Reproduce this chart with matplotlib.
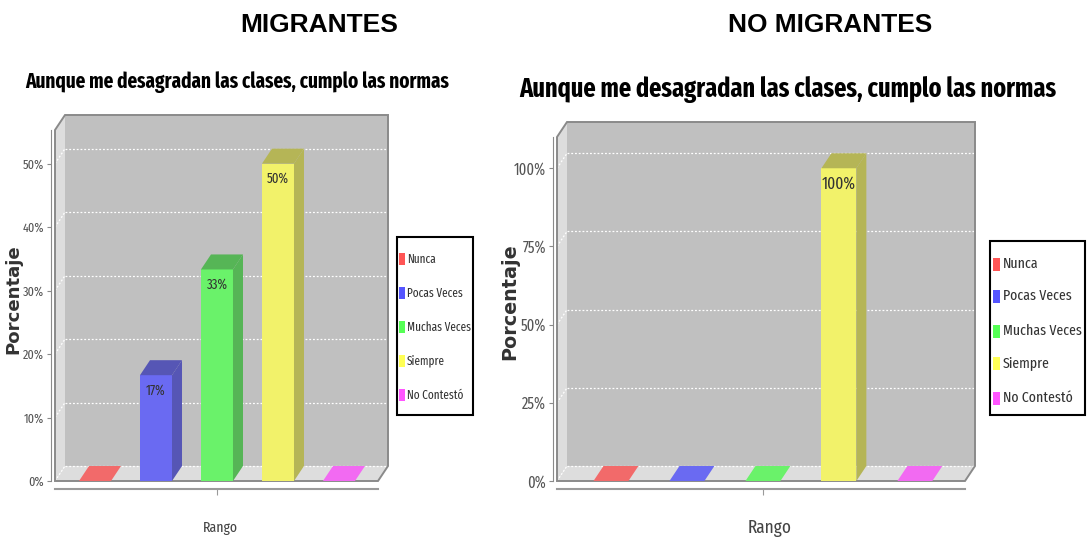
import matplotlib
matplotlib.use('Agg')
import matplotlib.pyplot as plt
from matplotlib.patches import Polygon, Rectangle

W, H = 1090, 542
NARROW = ['Fira Sans Extra Condensed', 'Sofia Sans Extra Condensed', 'Roboto Condensed',
          'Liberation Sans', 'DejaVu Sans']
TITLEF = ['Fira Sans Extra Condensed', 'Barlow Condensed', 'Roboto Condensed',
          'Liberation Sans', 'DejaVu Sans']
BOLDF = ['Liberation Sans', 'DejaVu Sans']
WIDEB = ['DejaVu Sans']

# ---------------- data ----------------
categories = ['Nunca', 'Pocas Veces', 'Muchas Veces', 'Siempre', 'No Contestó']
migrantes = [0, 16.67, 33.33, 50.0, 0]
no_migrantes = [0, 0, 0, 100.0, 0]
ticks_mig = [0, 10, 20, 30, 40, 50]
ticks_nomig = [0, 25, 50, 75, 100]
header_left = 'MIGRANTES'
header_right = 'NO MIGRANTES'
title = 'Aunque me desagradan las clases, cumplo las normas'
ylabel = 'Porcentaje'
xlabel = 'Rango'

base = ['#FF5555', '#5555FF', '#55FF55', '#FFFF55', '#FF55FF']


def hex2rgb(h):
    return [int(h[i:i + 2], 16) / 255 for i in (1, 3, 5)]


def blend(c, f=1.0, a=0.8, bg=192 / 255):
    return tuple(a * (v * f) + (1 - a) * bg for v in hex2rgb(c))


front_cols = [blend(c) for c in base]
dark_cols = [blend(c, 0.7) for c in base]

fig = plt.figure(figsize=(W / 100, H / 100), dpi=100)
fig.patch.set_facecolor('white')
renderer = fig.canvas.get_renderer()


def fx(px):
    return px / W


def fy(py):
    return 1 - py / H


def fit(txt, target, vertical=False):
    bb = txt.get_window_extent(renderer)
    cur = bb.height if vertical else bb.width
    txt.set_fontsize(txt.get_fontsize() * target / cur)
    return txt.get_fontsize()


def size_for(s, target, family, weight='normal'):
    t = fig.text(0, 0, s, family=family, weight=weight, fontsize=10)
    fs = fit(t, target)
    t.remove()
    return fs


def panel(l, t, r, b, values, ymax, yticks, xlim, DX, DY, bar_w, tick_w, lab_w, lab_off):
    axw, axh = r - l, b - t
    ax = fig.add_axes([fx(l), fy(b), axw / W, axh / H])
    ax.set_xlim(*xlim)
    ax.set_ylim(0, ymax)
    ax.patch.set_visible(False)
    ox, oy = DX / axw, DY / axh
    odx, ody = ox * (xlim[1] - xlim[0]), oy * ymax
    T = ax.transAxes
    ax.add_patch(Rectangle((ox, oy), 1, 1, transform=T, fc='#c0c0c0', ec='none',
                           clip_on=False, zorder=0))
    ax.add_patch(Polygon([(0, 0), (0, 1), (ox, 1 + oy), (ox, oy)], closed=True,
                         transform=T, fc='#dddddd', ec='none', clip_on=False, zorder=0))
    ax.add_patch(Polygon([(0, 0), (1, 0), (1 + ox, oy), (ox, oy)], closed=True,
                         transform=T, fc='#dddddd', ec='none', clip_on=False, zorder=0))
    for tk in yticks:
        yf = tk / ymax
        ax.plot([ox, 1 + ox], [yf + oy, yf + oy], transform=T, color='white',
                ls=(0, (1.5, 1.5)), lw=0.9, clip_on=False, zorder=1)
        ax.plot([0, ox], [yf, yf + oy], transform=T, color='white',
                ls=(0, (1.5, 1.5)), lw=0.9, clip_on=False, zorder=1)
    ax.add_patch(Polygon([(0, 0), (0, 1), (ox, 1 + oy), (1 + ox, 1 + oy), (1 + ox, oy), (1, 0)],
                         closed=True, fill=False, transform=T, ec='#8a8a8a', lw=1.4,
                         clip_on=False, zorder=1.5))
    lab_fs = size_for(f'{max(values):.0f}%', lab_w, NARROW)
    for i, v in enumerate(values):
        x0, x1 = i - bar_w / 2, i + bar_w / 2
        if v > 0:
            ax.bar(i, v, width=bar_w, color=front_cols[i], lw=0, zorder=3)
            ax.add_patch(Polygon([(x1, 0), (x1, v), (x1 + odx, v + ody), (x1 + odx, ody)],
                                 closed=True, fc=dark_cols[i], ec='none', zorder=3, clip_on=False))
            ax.add_patch(Polygon([(x0, v), (x1, v), (x1 + odx, v + ody), (x0 + odx, v + ody)],
                                 closed=True, fc=dark_cols[i], ec='none', zorder=3, clip_on=False))
            ax.annotate(f'{v:.0f}%', (i, v), xytext=(0, -lab_off), textcoords='offset pixels',
                        ha='center', va='top', fontsize=lab_fs, family=NARROW,
                        color='#333333', zorder=4, annotation_clip=False)
        else:
            ax.add_patch(Polygon([(x0, 0), (x1, 0), (x1 + odx, ody), (x0 + odx, ody)],
                                 closed=True, fc=front_cols[i], ec='none', zorder=2, clip_on=False))
    for s in ('top', 'right'):
        ax.spines[s].set_visible(False)
    ax.spines['left'].set_position(('outward', 3))
    ax.spines['left'].set_color('#8a8a8a')
    ax.spines['bottom'].set_position(('outward', 6))
    ax.spines['bottom'].set_color('#9a9a9a')
    ax.spines['bottom'].set_linewidth(1.5)
    tick_fs = size_for(f'{yticks[-1]}%', tick_w, NARROW)
    ax.set_yticks(yticks)
    ax.set_yticklabels([f'{tk}%' for tk in yticks], family=NARROW)
    ax.tick_params(axis='y', length=3, color='#8a8a8a', labelcolor='#555555',
                   labelsize=tick_fs, pad=2)
    ax.set_xticks([2])
    ax.set_xticklabels([''])
    ax.tick_params(axis='x', length=4, color='#9a9a9a')
    return ax


def legend(l, t, r, b, ys, sw_x, sw_w, sw_h, tx, target_w):
    fig.patches.append(Rectangle((fx(l), fy(b)), (r - l) / W, (b - t) / H,
                                 transform=fig.transFigure, fc='white', ec='black', lw=1.5))
    texts = []
    for i, (c, y) in enumerate(zip(categories, ys)):
        fig.patches.append(Rectangle((fx(sw_x), fy(y + sw_h / 2)), sw_w / W, sw_h / H,
                                     transform=fig.transFigure, fc=base[i], ec='none'))
        texts.append(fig.text(fx(tx), fy(y), c, ha='left', va='center', family=NARROW,
                              fontsize=10, color='#333333'))
    fs = fit(texts[2], target_w)
    for tt in texts:
        tt.set_fontsize(fs)


# ---------- left panel ----------
panel(55, 130, 378, 481, migrantes, 55.3, ticks_mig, (-0.656, 4.64), 10, 15, 0.525, 21, 22, 8)
legend(397, 237, 473, 415, [259, 293, 327, 361, 395], 399, 6, 12, 407, 64)

# ---------- right panel ----------
panel(557, 137, 965, 481, no_migrantes, 110, ticks_nomig, (-0.71, 4.66), 10, 15, 0.46, 32, 34, 8)
legend(990, 241, 1085, 415, [264, 296, 331, 363, 398], 993, 7, 13, 1003, 79)

# ---------- texts ----------
h1 = fig.text(fx(319), fy(32), header_left, ha='center', va='baseline', family=BOLDF,
              weight='bold', fontsize=18)
fit(h1, 158)
h2 = fig.text(fx(830), fy(32), header_right, ha='center', va='baseline', family=BOLDF,
              weight='bold', fontsize=18)
fit(h2, 204)
t1 = fig.text(fx(237.5), fy(88), title, ha='center', va='baseline', family=TITLEF,
              weight='bold', fontsize=14)
fit(t1, 425)
t2 = fig.text(fx(787.5), fy(97), title, ha='center', va='baseline', family=TITLEF,
              weight='bold', fontsize=16)
fit(t2, 539)
y1 = fig.text(fx(13.5), fy(299), ylabel, ha='center', va='center', rotation=90,
              family=WIDEB, weight='bold', fontsize=12, color='#333333')
fit(y1, 110, vertical=True)
y2 = fig.text(fx(510), fy(302), ylabel, ha='center', va='center', rotation=90,
              family=WIDEB, weight='bold', fontsize=12, color='#333333')
fit(y2, 116, vertical=True)
x1 = fig.text(fx(220), fy(528), xlabel, ha='center', va='center', family=NARROW,
              fontsize=11, color='#444444')
fit(x1, 35)
x2 = fig.text(fx(770), fy(528), xlabel, ha='center', va='center', family=NARROW,
              fontsize=11, color='#444444')
fit(x2, 44)

fig.savefig('out.png', dpi=100)
